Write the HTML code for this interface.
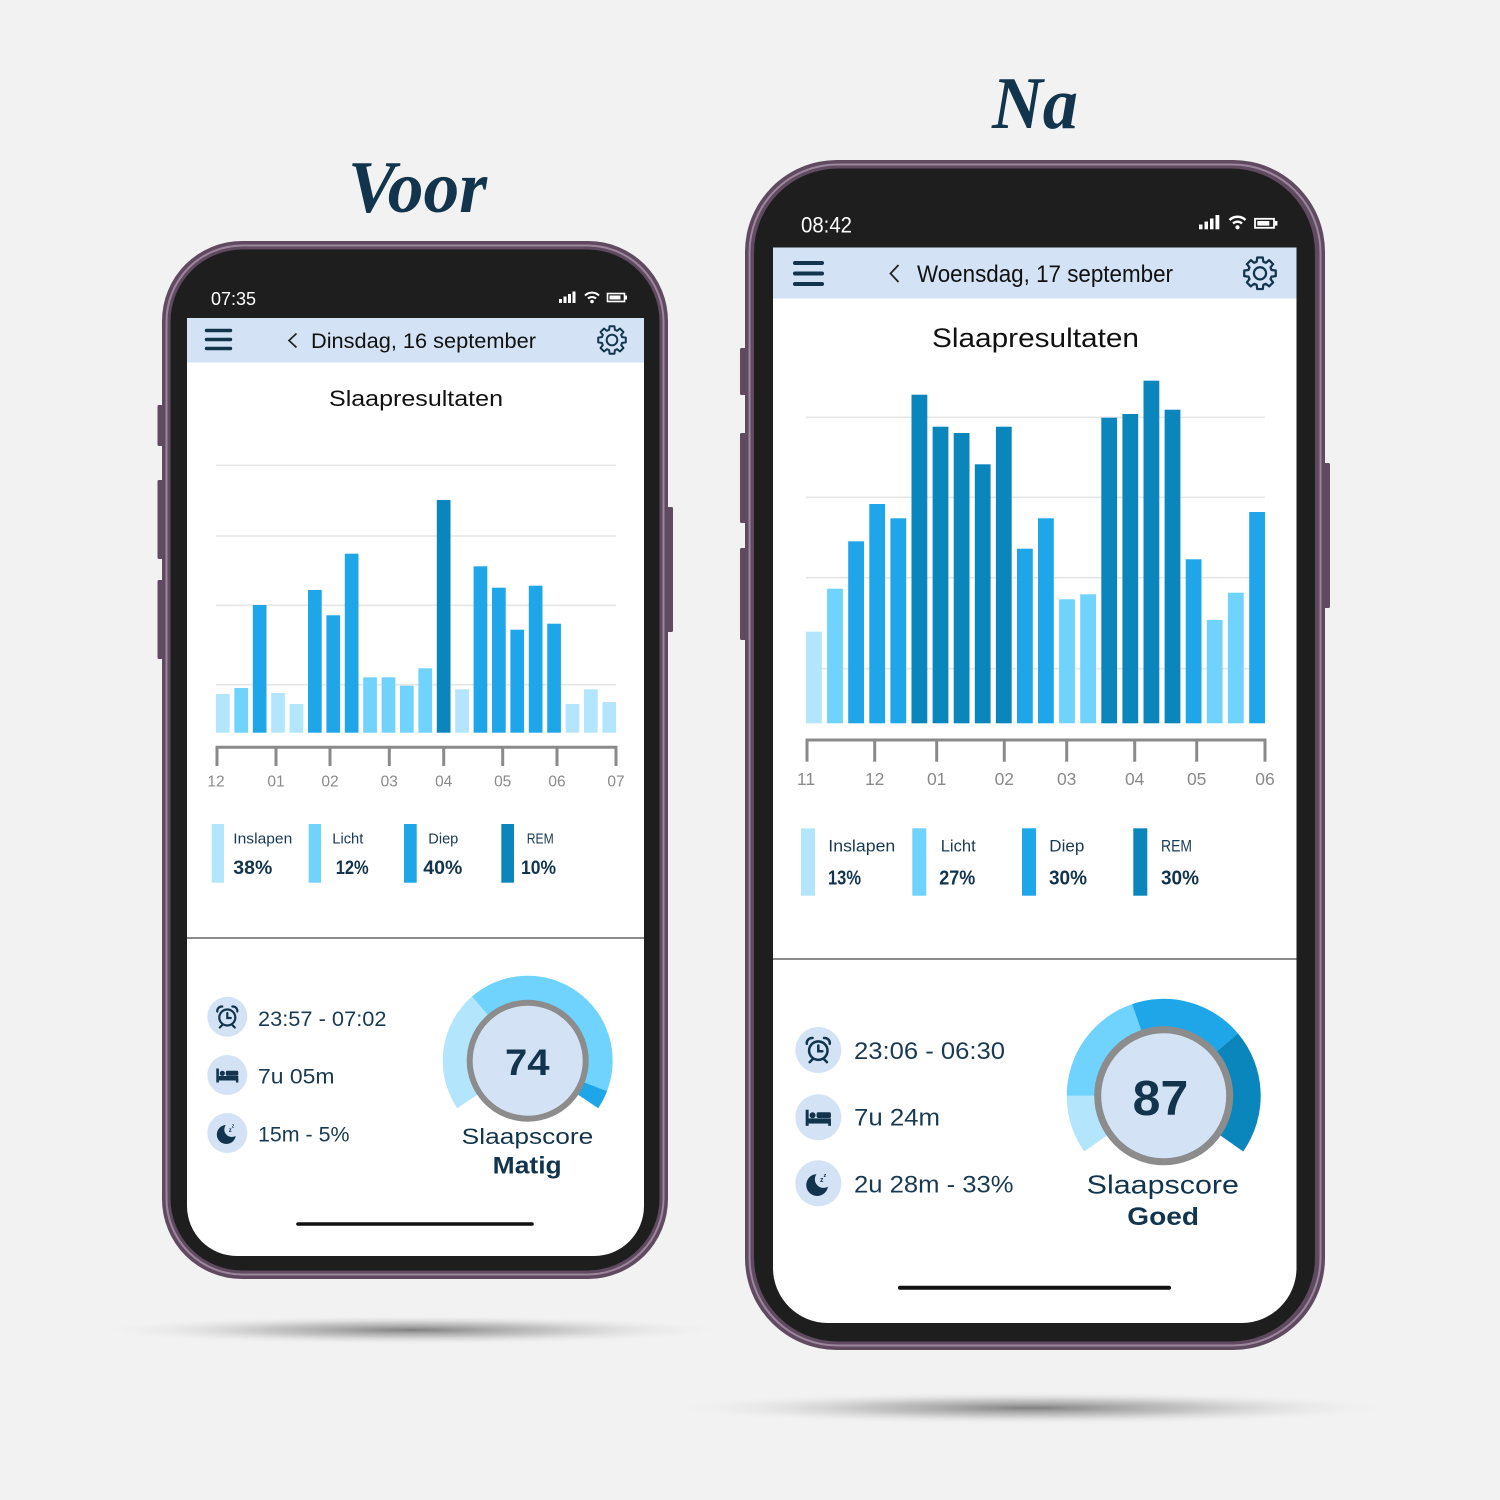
<!DOCTYPE html>
<html>
<head>
<meta charset="utf-8">
<style>
html,body{margin:0;padding:0;background:#f2f2f2;}
svg{display:block;}
text{font-family:"Liberation Sans",Arial,sans-serif;}
</style>
</head>
<body>
<svg width="1500" height="1500" viewBox="0 0 1500 1500" xmlns="http://www.w3.org/2000/svg">
<defs>
  <radialGradient id="sh" cx="50%" cy="50%" r="50%">
    <stop offset="0" stop-color="#7a7a7a" stop-opacity="0.95"/>
    <stop offset="0.45" stop-color="#a8a8a8" stop-opacity="0.6"/>
    <stop offset="1" stop-color="#f2f2f2" stop-opacity="0"/>
  </radialGradient>
  <g id="gear">
    <polygon points="72.1,-20.7 98.5,-17.4 98.5,17.4 72.1,20.7 65.6,36.4 81.9,57.4 57.4,81.9 36.4,65.6 20.7,72.1 17.4,98.5 -17.4,98.5 -20.7,72.1 -36.4,65.6 -57.4,81.9 -81.9,57.4 -65.6,36.4 -72.1,20.7 -98.5,17.4 -98.5,-17.4 -72.1,-20.7 -65.6,-36.4 -81.9,-57.4 -57.4,-81.9 -36.4,-65.6 -20.7,-72.1 -17.4,-98.5 17.4,-98.5 20.7,-72.1 36.4,-65.6 57.4,-81.9 81.9,-57.4 65.6,-36.4" fill="none" stroke="#12344d" stroke-width="14" stroke-linejoin="round"/>
    <circle cx="0" cy="0" r="38" fill="none" stroke="#12344d" stroke-width="14"/>
  </g>
  <g id="alarm" fill="none" stroke="#12344d" stroke-width="2.2" stroke-linecap="round">
    <circle cx="0" cy="1" r="8"/>
    <polyline points="0,-3.5 0,1.5 3.5,1.5"/>
    <path d="M-10,-5 A4.5,4.5 0 0 1 -5,-10"/>
    <path d="M10,-5 A4.5,4.5 0 0 0 5,-10"/>
    <line x1="-5" y1="8.5" x2="-7.5" y2="11"/>
    <line x1="5" y1="8.5" x2="7.5" y2="11"/>
  </g>
  <g id="bed" fill="#12344d">
    <rect x="-11" y="-7" width="2.6" height="14"/>
    <circle cx="-5" cy="-2.2" r="2.6"/>
    <rect x="-8.5" y="0.5" width="19.5" height="4.5"/>
    <rect x="-1.5" y="-4.8" width="12.5" height="5" rx="1.5"/>
    <rect x="8.6" y="4" width="2.4" height="3"/>
  </g>
  <g id="moon">
    <circle cx="-1" cy="1.5" r="9.5" fill="#12344d"/>
    <circle cx="4.5" cy="-3.5" r="7.5" fill="#d3e3f5"/>
    <text x="1.5" y="-1" font-size="6" font-weight="bold" fill="#12344d">z</text>
    <text x="4.5" y="-5.5" font-size="5" font-weight="bold" fill="#12344d">z</text>
  </g>
</defs>

<rect x="0" y="0" width="1500" height="1500" fill="#f2f2f2"/>

<!-- Titles -->
<text x="348" y="212" font-style="italic" font-weight="bold" font-size="74" fill="#12344d" textLength="139" lengthAdjust="spacingAndGlyphs" style="font-family:'Liberation Serif',serif">Voor</text>
<text x="992" y="128" font-style="italic" font-weight="bold" font-size="74" fill="#12344d" textLength="86" lengthAdjust="spacingAndGlyphs" style="font-family:'Liberation Serif',serif">Na</text>

<!-- Shadows -->
<ellipse cx="412" cy="1330" rx="320" ry="15" fill="url(#sh)"/>
<ellipse cx="1032" cy="1408" rx="370" ry="17" fill="url(#sh)"/>

<!-- ================= LEFT PHONE ================= -->
<rect x="157.5" y="405" width="6" height="41" rx="1.5" fill="#5f4a60"/>
<rect x="157.5" y="480" width="6" height="79" rx="1.5" fill="#5f4a60"/>
<rect x="157.5" y="580" width="6" height="79" rx="1.5" fill="#5f4a60"/>
<rect x="667" y="507" width="6" height="125" rx="1.5" fill="#5f4a60"/>
<rect x="162" y="241" width="506" height="1038" rx="80" fill="#5f4a60"/>
<rect x="166.5" y="245.5" width="497" height="1029" rx="76" fill="none" stroke="#9c869c" stroke-width="2"/>
<rect x="170.5" y="249.5" width="489" height="1021" rx="72" fill="#1e1e1e"/>
<path d="M187,318 H644 V1206 A50,50 0 0 1 594,1256 H237 A50,50 0 0 1 187,1206 Z" fill="#ffffff"/>
<rect x="187" y="318" width="457" height="44.5" fill="#d3e3f5"/>
<text x="211" y="305" font-size="18" fill="#ffffff" textLength="45" lengthAdjust="spacingAndGlyphs">07:35</text>
<g fill="#ffffff">
  <rect x="559" y="299" width="3" height="4"/>
  <rect x="563.5" y="296.5" width="3" height="6.5"/>
  <rect x="568" y="294" width="3" height="9"/>
  <rect x="572.5" y="291.5" width="3" height="11.5"/>
  <circle cx="592" cy="301.5" r="1.8"/>
</g>
<g fill="none" stroke="#ffffff" stroke-width="2">
  <path d="M585,295.5 A10,10 0 0 1 599,295.5"/>
  <path d="M588,298.5 A6,6 0 0 1 596,298.5"/>
</g>
<rect x="607.5" y="293.5" width="17" height="8" fill="none" stroke="#ffffff" stroke-width="1.6"/>
<rect x="609.5" y="295.5" width="11" height="4" fill="#ffffff"/>
<rect x="625" y="295.5" width="2" height="4" fill="#ffffff"/>
<g stroke="#12344d" stroke-width="3.4" stroke-linecap="round">
  <line x1="206.5" y1="330.5" x2="230.5" y2="330.5"/>
  <line x1="206.5" y1="339.5" x2="230.5" y2="339.5"/>
  <line x1="206.5" y1="348.5" x2="230.5" y2="348.5"/>
</g>
<polyline points="296.5,333.5 289,340.5 296.5,347.5" fill="none" stroke="#222" stroke-width="1.7"/>
<text x="311" y="348" font-size="21" fill="#111" textLength="225" lengthAdjust="spacingAndGlyphs">Dinsdag, 16 september</text>
<use href="#gear" transform="translate(612,340) scale(0.14)"/>
<text x="329" y="406" font-size="22" fill="#111" textLength="174" lengthAdjust="spacingAndGlyphs">Slaapresultaten</text>
<g stroke="#e6e6e6" stroke-width="1.6">
  <line x1="216" y1="465.3" x2="616" y2="465.3"/>
  <line x1="216" y1="536" x2="616" y2="536"/>
  <line x1="216" y1="605.3" x2="616" y2="605.3"/>
  <line x1="216" y1="684.7" x2="616" y2="684.7"/>
</g>
<g>
  <rect x="216" y="694" width="13.7" height="38.7" fill="#b3e5fc"/>
  <rect x="234.4" y="688" width="13.7" height="44.7" fill="#6fd3fd"/>
  <rect x="252.8" y="605" width="13.7" height="127.7" fill="#1fa6e9"/>
  <rect x="271.2" y="693" width="13.7" height="39.7" fill="#b3e5fc"/>
  <rect x="289.6" y="704" width="13.7" height="28.7" fill="#b3e5fc"/>
  <rect x="308" y="590" width="13.7" height="142.7" fill="#1fa6e9"/>
  <rect x="326.4" y="615.3" width="13.7" height="117.4" fill="#1fa6e9"/>
  <rect x="344.8" y="553.7" width="13.7" height="179" fill="#1fa6e9"/>
  <rect x="363.2" y="677.3" width="13.7" height="55.4" fill="#6fd3fd"/>
  <rect x="381.6" y="677.3" width="13.7" height="55.4" fill="#6fd3fd"/>
  <rect x="400" y="685.7" width="13.7" height="47" fill="#6fd3fd"/>
  <rect x="418.4" y="668.3" width="13.7" height="64.4" fill="#6fd3fd"/>
  <rect x="436.8" y="500" width="13.7" height="232.7" fill="#0a86bd"/>
  <rect x="455.2" y="689.3" width="13.7" height="43.4" fill="#b3e5fc"/>
  <rect x="473.6" y="566.3" width="13.7" height="166.4" fill="#1fa6e9"/>
  <rect x="492" y="587.7" width="13.7" height="145" fill="#1fa6e9"/>
  <rect x="510.4" y="629.7" width="13.7" height="103" fill="#1fa6e9"/>
  <rect x="528.8" y="585.7" width="13.7" height="147" fill="#1fa6e9"/>
  <rect x="547.2" y="623.7" width="13.7" height="109" fill="#1fa6e9"/>
  <rect x="565.6" y="704" width="13.7" height="28.7" fill="#b3e5fc"/>
  <rect x="584" y="689.3" width="13.7" height="43.4" fill="#b3e5fc"/>
  <rect x="602.4" y="702" width="13.7" height="30.7" fill="#b3e5fc"/>
</g>
<g stroke="#8a8a8a" stroke-width="3">
  <line x1="216" y1="747.3" x2="617.5" y2="747.3"/>
  <line x1="217" y1="746" x2="217" y2="766"/>
  <line x1="276" y1="746" x2="276" y2="766"/>
  <line x1="330" y1="746" x2="330" y2="766"/>
  <line x1="389.3" y1="746" x2="389.3" y2="766"/>
  <line x1="443.7" y1="746" x2="443.7" y2="766"/>
  <line x1="502.7" y1="746" x2="502.7" y2="766"/>
  <line x1="557" y1="746" x2="557" y2="766"/>
  <line x1="616" y1="746" x2="616" y2="766"/>
</g>
<g font-size="15.5" fill="#8a8a8a" text-anchor="middle">
  <text x="216" y="786.5">12</text>
  <text x="276" y="786.5">01</text>
  <text x="330" y="786.5">02</text>
  <text x="389.3" y="786.5">03</text>
  <text x="443.7" y="786.5">04</text>
  <text x="502.7" y="786.5">05</text>
  <text x="557" y="786.5">06</text>
  <text x="616" y="786.5">07</text>
</g>
<rect x="211.7" y="824" width="12.3" height="58.7" fill="#b3e5fc"/>
<rect x="308.7" y="824" width="12.3" height="58.7" fill="#6fd3fd"/>
<rect x="404" y="824" width="12.7" height="58.7" fill="#1fa6e9"/>
<rect x="501.3" y="824" width="12.7" height="58.7" fill="#0a86bd"/>
<g font-size="15" fill="#1a3a52">
  <text x="233.3" y="843.5" textLength="59" lengthAdjust="spacingAndGlyphs">Inslapen</text>
  <text x="332.3" y="843.5" textLength="31" lengthAdjust="spacingAndGlyphs">Licht</text>
  <text x="428.3" y="843.5" textLength="30" lengthAdjust="spacingAndGlyphs">Diep</text>
  <text x="526.7" y="843.5" textLength="27" lengthAdjust="spacingAndGlyphs">REM</text>
</g>
<g font-size="19" font-weight="bold" fill="#12344d">
  <text x="233.3" y="874" textLength="39" lengthAdjust="spacingAndGlyphs">38%</text>
  <text x="335.7" y="874" textLength="33" lengthAdjust="spacingAndGlyphs">12%</text>
  <text x="423.3" y="874" textLength="39" lengthAdjust="spacingAndGlyphs">40%</text>
  <text x="521" y="874" textLength="35" lengthAdjust="spacingAndGlyphs">10%</text>
</g>
<line x1="187" y1="938" x2="644" y2="938" stroke="#8c8c8c" stroke-width="2"/>
<circle cx="227.3" cy="1016.7" r="20" fill="#d3e3f5"/>
<circle cx="227.3" cy="1075" r="20" fill="#d3e3f5"/>
<circle cx="227.3" cy="1133" r="20" fill="#d3e3f5"/>
<use href="#alarm" transform="translate(227.3,1016.5)"/>
<use href="#bed" transform="translate(227.3,1075.5)"/>
<use href="#moon" transform="translate(227.3,1133)"/>
<g font-size="21" fill="#1a3a52">
  <text x="258" y="1026" textLength="128.5" lengthAdjust="spacingAndGlyphs">23:57 - 07:02</text>
  <text x="258" y="1083.5" textLength="76.5" lengthAdjust="spacingAndGlyphs">7u 05m</text>
  <text x="258" y="1141.5" textLength="91.5" lengthAdjust="spacingAndGlyphs">15m - 5%</text>
</g>
<path d="M457.23,1108.23 A85,85 0 0 1 471.93,996.55 L491.61,1019.19 A55,55 0 0 0 482.10,1091.46 Z" fill="#b3e5fc"/>
<path d="M471.93,996.55 A85,85 0 0 1 607.05,1091.16 L579.05,1080.41 A55,55 0 0 0 491.61,1019.19 Z" fill="#6fd3fd"/>
<path d="M607.05,1091.16 A85,85 0 0 1 598.17,1108.23 L573.30,1091.46 A55,55 0 0 0 579.05,1080.41 Z" fill="#1fa6e9"/>
<circle cx="527.7" cy="1060.7" r="58" fill="#d3e3f5" stroke="#8c8c8c" stroke-width="6"/>
<text x="505" y="1075" font-size="37" font-weight="bold" fill="#12344d" textLength="44.5" lengthAdjust="spacingAndGlyphs">74</text>
<text x="461.7" y="1144" font-size="22" fill="#12344d" textLength="131.6" lengthAdjust="spacingAndGlyphs">Slaapscore</text>
<text x="492.7" y="1173.3" font-size="24" font-weight="bold" fill="#12344d" textLength="69" lengthAdjust="spacingAndGlyphs">Matig</text>
<line x1="298" y1="1224" x2="532" y2="1224" stroke="#111" stroke-width="3.6" stroke-linecap="round"/>

<!-- ================= RIGHT PHONE ================= -->
<rect x="740" y="348" width="7" height="47" rx="1.5" fill="#5f4a60"/>
<rect x="740" y="433" width="7" height="90" rx="1.5" fill="#5f4a60"/>
<rect x="740" y="548" width="7" height="92" rx="1.5" fill="#5f4a60"/>
<rect x="1323" y="463" width="7" height="145" rx="1.5" fill="#5f4a60"/>
<rect x="745" y="160" width="580" height="1190" rx="92" fill="#5f4a60"/>
<rect x="749.5" y="164.5" width="571" height="1181" rx="88" fill="none" stroke="#9c869c" stroke-width="2"/>
<rect x="754" y="168.5" width="561" height="1173" rx="84" fill="#1e1e1e"/>
<path d="M773,248 H1296.5 V1268 A55,55 0 0 1 1241.5,1323 H828 A55,55 0 0 1 773,1268 Z" fill="#ffffff"/>
<rect x="773" y="247.5" width="523.5" height="51" fill="#d3e3f5"/>
<text x="801" y="232.5" font-size="22" fill="#ffffff" textLength="51" lengthAdjust="spacingAndGlyphs">08:42</text>
<g fill="#ffffff">
  <rect x="1199" y="224.5" width="3.5" height="4.8"/>
  <rect x="1204.5" y="221.5" width="3.5" height="7.8"/>
  <rect x="1210" y="218.5" width="3.5" height="10.8"/>
  <rect x="1215.5" y="215" width="3.8" height="14.3"/>
  <circle cx="1237.5" cy="227.3" r="2.1"/>
</g>
<g fill="none" stroke="#ffffff" stroke-width="2.4">
  <path d="M1229.5,220 A11.5,11.5 0 0 1 1245.5,220"/>
  <path d="M1233,223.5 A6.5,6.5 0 0 1 1242,223.5"/>
</g>
<rect x="1255" y="218.8" width="19" height="9" fill="none" stroke="#ffffff" stroke-width="1.8"/>
<rect x="1257.3" y="221" width="12" height="4.6" fill="#ffffff"/>
<rect x="1275" y="221" width="2.4" height="4.6" fill="#ffffff"/>
<g stroke="#12344d" stroke-width="4" stroke-linecap="round">
  <line x1="795" y1="263" x2="822" y2="263"/>
  <line x1="795" y1="273.5" x2="822" y2="273.5"/>
  <line x1="795" y1="284" x2="822" y2="284"/>
</g>
<polyline points="898.5,265 890.5,273.5 898.5,282" fill="none" stroke="#222" stroke-width="1.8"/>
<text x="917" y="282" font-size="24" fill="#111" textLength="256" lengthAdjust="spacingAndGlyphs">Woensdag, 17 september</text>
<use href="#gear" transform="translate(1260,273.3) scale(0.16)"/>
<text x="932" y="347" font-size="27" fill="#111" textLength="207" lengthAdjust="spacingAndGlyphs">Slaapresultaten</text>
<g stroke="#e6e6e6" stroke-width="1.6">
  <line x1="806" y1="417.3" x2="1265" y2="417.3"/>
  <line x1="806" y1="497.3" x2="1265" y2="497.3"/>
  <line x1="806" y1="577.7" x2="1265" y2="577.7"/>
  <line x1="806" y1="668.7" x2="1265" y2="668.7"/>
</g>
<g>
  <rect x="806" y="631.7" width="15.8" height="91.6" fill="#b3e5fc"/>
  <rect x="827.1" y="588.7" width="15.8" height="134.6" fill="#6fd3fd"/>
  <rect x="848.2" y="541.3" width="15.8" height="182" fill="#1fa6e9"/>
  <rect x="869.3" y="504" width="15.8" height="219.3" fill="#1fa6e9"/>
  <rect x="890.4" y="518.3" width="15.8" height="205" fill="#1fa6e9"/>
  <rect x="911.5" y="394.7" width="15.8" height="328.6" fill="#0a86bd"/>
  <rect x="932.6" y="426.7" width="15.8" height="296.6" fill="#0a86bd"/>
  <rect x="953.7" y="433" width="15.8" height="290.3" fill="#0a86bd"/>
  <rect x="974.8" y="464.3" width="15.8" height="259" fill="#0a86bd"/>
  <rect x="995.9" y="426.7" width="15.8" height="296.6" fill="#0a86bd"/>
  <rect x="1017" y="548.7" width="15.8" height="174.6" fill="#1fa6e9"/>
  <rect x="1038" y="518.3" width="15.8" height="205" fill="#1fa6e9"/>
  <rect x="1059.1" y="599.3" width="15.8" height="124" fill="#6fd3fd"/>
  <rect x="1080.2" y="594.3" width="15.8" height="129" fill="#6fd3fd"/>
  <rect x="1101.3" y="417.7" width="15.8" height="305.6" fill="#0a86bd"/>
  <rect x="1122.4" y="414" width="15.8" height="309.3" fill="#0a86bd"/>
  <rect x="1143.5" y="380.7" width="15.8" height="342.6" fill="#0a86bd"/>
  <rect x="1164.6" y="409.7" width="15.8" height="313.6" fill="#0a86bd"/>
  <rect x="1185.7" y="559.3" width="15.8" height="164" fill="#1fa6e9"/>
  <rect x="1206.8" y="620" width="15.8" height="103.3" fill="#6fd3fd"/>
  <rect x="1227.9" y="592.7" width="15.8" height="130.6" fill="#6fd3fd"/>
  <rect x="1249.2" y="512" width="15.8" height="211.3" fill="#1fa6e9"/>
</g>
<g stroke="#8a8a8a" stroke-width="3">
  <line x1="805.5" y1="740" x2="1266.5" y2="740"/>
  <line x1="807" y1="739" x2="807" y2="761.7"/>
  <line x1="874.7" y1="739" x2="874.7" y2="761.7"/>
  <line x1="936.7" y1="739" x2="936.7" y2="761.7"/>
  <line x1="1004.3" y1="739" x2="1004.3" y2="761.7"/>
  <line x1="1066.7" y1="739" x2="1066.7" y2="761.7"/>
  <line x1="1134.7" y1="739" x2="1134.7" y2="761.7"/>
  <line x1="1196.7" y1="739" x2="1196.7" y2="761.7"/>
  <line x1="1265" y1="739" x2="1265" y2="761.7"/>
</g>
<g font-size="17.5" fill="#8a8a8a" text-anchor="middle">
  <text x="806" y="785">11</text>
  <text x="874.7" y="785">12</text>
  <text x="936.7" y="785">01</text>
  <text x="1004.3" y="785">02</text>
  <text x="1066.7" y="785">03</text>
  <text x="1134.7" y="785">04</text>
  <text x="1196.7" y="785">05</text>
  <text x="1265" y="785">06</text>
</g>
<rect x="801" y="828.3" width="14" height="67.4" fill="#b3e5fc"/>
<rect x="912.3" y="828.3" width="14" height="67.4" fill="#6fd3fd"/>
<rect x="1022" y="828.3" width="14" height="67.4" fill="#1fa6e9"/>
<rect x="1133.3" y="828.3" width="14" height="67.4" fill="#0a86bd"/>
<g font-size="17" fill="#1a3a52">
  <text x="828.3" y="851.5" textLength="67" lengthAdjust="spacingAndGlyphs">Inslapen</text>
  <text x="940.7" y="851.5" textLength="35" lengthAdjust="spacingAndGlyphs">Licht</text>
  <text x="1049.3" y="851.5" textLength="35" lengthAdjust="spacingAndGlyphs">Diep</text>
  <text x="1161" y="851.5" textLength="31" lengthAdjust="spacingAndGlyphs">REM</text>
</g>
<g font-size="20" font-weight="bold" fill="#12344d">
  <text x="828" y="884.5" textLength="33" lengthAdjust="spacingAndGlyphs">13%</text>
  <text x="939.3" y="884.5" textLength="36" lengthAdjust="spacingAndGlyphs">27%</text>
  <text x="1049" y="884.5" textLength="38" lengthAdjust="spacingAndGlyphs">30%</text>
  <text x="1161" y="884.5" textLength="38" lengthAdjust="spacingAndGlyphs">30%</text>
</g>
<line x1="773" y1="959" x2="1296.5" y2="959" stroke="#8c8c8c" stroke-width="2"/>
<circle cx="818.3" cy="1050" r="23" fill="#d3e3f5"/>
<circle cx="818.3" cy="1117.3" r="23" fill="#d3e3f5"/>
<circle cx="818.3" cy="1183.3" r="23" fill="#d3e3f5"/>
<use href="#alarm" transform="translate(818.3,1049.5) scale(1.15)"/>
<use href="#bed" transform="translate(818.3,1117.8) scale(1.15)"/>
<use href="#moon" transform="translate(818.3,1183.3) scale(1.15)"/>
<g font-size="24" fill="#1a3a52">
  <text x="854" y="1059" textLength="151" lengthAdjust="spacingAndGlyphs">23:06 - 06:30</text>
  <text x="854" y="1125.7" textLength="86" lengthAdjust="spacingAndGlyphs">7u 24m</text>
  <text x="854" y="1192.3" textLength="159.5" lengthAdjust="spacingAndGlyphs">2u 28m - 33%</text>
</g>
<path d="M1084.24,1151.44 A97,97 0 0 1 1066.7,1095.8 L1101.7,1095.8 A62,62 0 0 0 1112.91,1131.36 Z" fill="#b3e5fc"/>
<path d="M1066.7,1095.8 A97,97 0 0 1 1132.12,1004.09 L1143.51,1037.18 A62,62 0 0 0 1101.7,1095.8 Z" fill="#6fd3fd"/>
<path d="M1132.12,1004.09 A97,97 0 0 1 1238.00,1033.45 L1211.19,1055.95 A62,62 0 0 0 1143.51,1037.18 Z" fill="#1fa6e9"/>
<path d="M1238.00,1033.45 A97,97 0 0 1 1243.16,1151.44 L1214.49,1131.36 A62,62 0 0 0 1211.19,1055.95 Z" fill="#0a86bd"/>
<circle cx="1163.7" cy="1095.8" r="66" fill="#d3e3f5" stroke="#8c8c8c" stroke-width="7"/>
<text x="1132.7" y="1115" font-size="49" font-weight="bold" fill="#12344d" textLength="55.6" lengthAdjust="spacingAndGlyphs">87</text>
<text x="1086.7" y="1193.3" font-size="26" fill="#12344d" textLength="152.3" lengthAdjust="spacingAndGlyphs">Slaapscore</text>
<text x="1127.3" y="1225" font-size="25" font-weight="bold" fill="#12344d" textLength="71.7" lengthAdjust="spacingAndGlyphs">Goed</text>
<line x1="900" y1="1287.7" x2="1169" y2="1287.7" stroke="#111" stroke-width="4" stroke-linecap="round"/>
</svg>
</body>
</html>
